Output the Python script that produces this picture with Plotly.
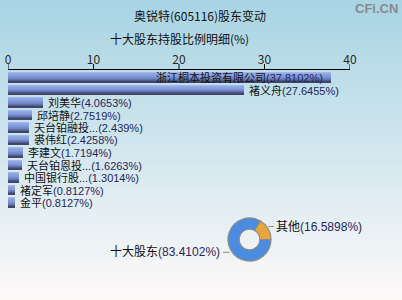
import plotly.graph_objects as go

# ---------------- data ----------------
holders = ["浙江桐本投资有限公司", "褚义舟", "刘美华", "邱培静", "天台铂融投...",
           "裘伟红", "李建文", "天台铂恩投...", "中国银行股...", "褚定军", "金平"]
pcts = [37.8102, 27.6455, 4.0653, 2.7519, 2.439, 2.4258, 1.7194, 1.6263, 1.3014, 0.8127, 0.8127]
x_ticks = [0, 10, 20, 30, 40]

pie_labels = ["十大股东", "其他"]
pie_values = [83.4102, 16.5898]

title_text = "奥锐特(605116)股东变动"
subtitle_text = "十大股东持股比例明细(%)"
brand_text = "CFi.CN"

# ---------------- layout helpers (pixel -> paper) ----------------
W, H = 402, 300
ML, MR, MT, MB = 8, 52, 70, 0
PW, PH = W - ML - MR, H - MT - MB


def px(x):
    return (x - ML) / PW


def py(y):
    return (H - MB - y) / PH


FONT = "Noto Sans CJK SC, Noto Sans, sans-serif"
LFONT = "Liberation Sans, Noto Sans CJK SC, sans-serif"
LBL = 11

fig = go.Figure()

# gradient bars built from stripes
stripe_colors = ["#a3b6ec", "#92a9e6", "#8ba3e0", "#869ddb", "#7f97d5",
                 "#788fcd", "#6e84c1", "#6274ab", "#515e8c", "#3f4868"]
total_w = 0.78
sw = total_w / len(stripe_colors)
for i, c in enumerate(stripe_colors):
    fig.add_trace(go.Bar(
        x=pcts, y=holders, orientation="h",
        width=sw * 1.02, offset=-total_w / 2 + i * sw,
        marker=dict(color=c, line=dict(width=0)),
        showlegend=False, hoverinfo="skip",
        xaxis="x", yaxis="y",
    ))

# donut
fig.add_trace(go.Pie(
    labels=pie_labels, values=pie_values, hole=0.48, sort=False,
    direction="clockwise", rotation=90, textinfo="none",
    marker=dict(colors=["#4b8be0", "#e9a43a"], line=dict(color="#8c8c8c", width=1.2)),
    domain=dict(x=[px(228), px(271)], y=[py(261), py(218)]),
    showlegend=False, hoverinfo="label+percent",
))

annotations = []
# bar labels
for i, (n, v) in enumerate(zip(holders, pcts)):
    txt = f"{n}<span style='color:#26265c'>({v}%)</span>"
    if i == 0:
        annotations.append(dict(x=v, y=n, xref="x", yref="y", text=txt, showarrow=False,
                                xanchor="right", xshift=-7, borderpad=0,
                                font=dict(size=LBL, color="#111", family=LFONT)))
    else:
        annotations.append(dict(x=v, y=n, xref="x", yref="y", text=txt, showarrow=False,
                                xanchor="left", xshift=4, borderpad=0,
                                font=dict(size=LBL, color="#111", family=LFONT)))

# titles
annotations.append(dict(x=px(200), y=py(15), xref="paper", yref="paper", text=title_text,
                        showarrow=False, xanchor="center", yanchor="middle",
                        font=dict(size=12, color="#111", family=FONT)))
annotations.append(dict(x=px(179), y=py(39), xref="paper", yref="paper", text=subtitle_text,
                        showarrow=False, xanchor="center", yanchor="middle",
                        font=dict(size=12, color="#111", family=FONT)))
annotations.append(dict(x=px(400), y=py(9), xref="paper", yref="paper", text=f"<b>{brand_text}</b>",
                        showarrow=False, xanchor="right", yanchor="middle",
                        font=dict(size=13, color="#8a8a8a", family="Arial, Liberation Sans, sans-serif")))

# pie labels
annotations.append(dict(x=px(274), y=py(226.5), xref="paper", yref="paper",
                        text=f"{pie_labels[1]}<span style='color:#26265c'>({pie_values[1]}%)</span>",
                        showarrow=False, xanchor="left", yanchor="middle",
                        font=dict(size=12, color="#111", family=LFONT)))
annotations.append(dict(x=px(222), y=py(252), xref="paper", yref="paper",
                        text=f"{pie_labels[0]}<span style='color:#26265c'>({pie_values[0]}%)</span>",
                        showarrow=False, xanchor="right", yanchor="middle",
                        font=dict(size=12, color="#111", family=LFONT)))

shapes = []
# background gradient bands
top = (168, 212, 228)
bot = (253, 249, 249)
N = 60
for k in range(N):
    t = k / (N - 1)
    c = tuple(round(top[j] + (bot[j] - top[j]) * t) for j in range(3))
    y0 = k * H / N
    y1 = (k + 1) * H / N + 0.6
    shapes.append(dict(type="rect", xref="paper", yref="paper", layer="below",
                       x0=px(-2), x1=px(W + 2), y0=py(y1), y1=py(y0),
                       fillcolor=f"rgb{c}", line=dict(width=0)))
# tick marks (upward from the top axis line)
for t in x_ticks:
    shapes.append(dict(type="line", xref="x", yref="paper", x0=t, x1=t, y0=1, y1=1 + 6 / PH,
                       line=dict(color="#000", width=1)))
# pie connectors
shapes.append(dict(type="line", xref="paper", yref="paper", x0=px(268.5), x1=px(274), y0=py(226.5), y1=py(226.5),
                   line=dict(color="#8c8c8c", width=1)))
shapes.append(dict(type="line", xref="paper", yref="paper", x0=px(223), x1=px(229.5), y0=py(252.3), y1=py(252.3),
                   line=dict(color="#8c8c8c", width=1)))

fig.update_layout(
    width=W, height=H,
    margin=dict(l=ML, r=MR, t=MT, b=MB, pad=0),
    paper_bgcolor="rgb(253,249,249)",
    plot_bgcolor="rgba(0,0,0,0)",
    barmode="overlay",
    bargap=0,
    showlegend=False,
    annotations=annotations,
    shapes=shapes,
    xaxis=dict(range=[0, 40], side="top", tickvals=x_ticks, ticktext=[str(t) for t in x_ticks],
               showline=True, linecolor="#000", linewidth=1, ticks="outside", ticklen=0,
               tickcolor="#000", tickwidth=1, showgrid=False, zeroline=False,
               tickfont=dict(size=12, color="#2a2a1a", family=FONT), fixedrange=True),
    yaxis=dict(autorange="reversed", domain=[py(210), 1], showticklabels=False, showgrid=False,
               zeroline=False, showline=False, ticks="", fixedrange=True),
)

fig.write_html("out.html")
